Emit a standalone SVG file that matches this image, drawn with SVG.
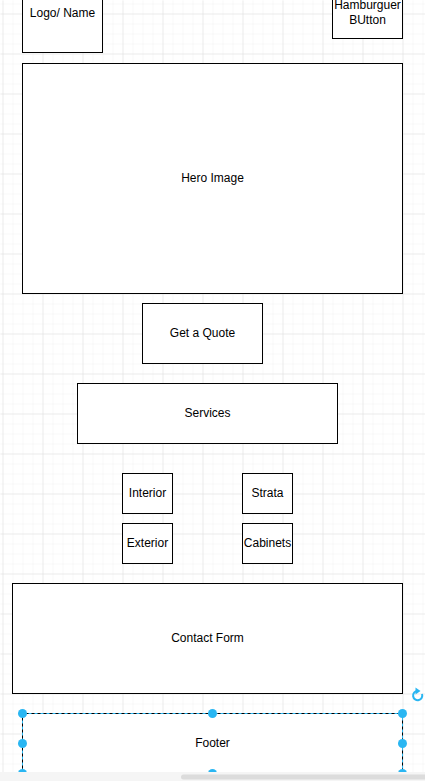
<svg xmlns="http://www.w3.org/2000/svg" width="425" height="781" viewBox="0 0 425 781">
<defs>
<pattern id="minor" x="2" y="3" width="10" height="10" patternUnits="userSpaceOnUse">
<path d="M0 0H10M0 0V10" fill="none" stroke="#f2f2f2" stroke-width="1"/>
</pattern>
<pattern id="major" x="2" y="13" width="40" height="40" patternUnits="userSpaceOnUse">
<path d="M0 0H40M0 0V40" fill="none" stroke="#e0e0e0" stroke-width="1"/>
</pattern>
</defs>
<style>
.box{fill:#fff;stroke:#000;stroke-width:1}
.t{font-family:"Liberation Sans",Arial,sans-serif;font-size:12px;fill:#000;text-anchor:middle;dominant-baseline:central}
.h{fill:#29b6f2}
</style>
<rect width="425" height="781" fill="#fff"/>
<rect width="425" height="781" fill="url(#minor)" transform="translate(0.5 0.5)"/>
<rect width="425" height="781" fill="url(#major)" transform="translate(0.5 0.5)"/>
<g id="connectors"></g>
<g id="logo"><rect class="box" x="22.5" y="-27.5" width="80" height="80"/><text class="t" x="62.5" y="12.5">Logo/ Name</text></g>
<g id="hamburger"><rect class="box" x="332.5" y="-11.5" width="70" height="50"/><text class="t" x="367.5" y="5">Hamburguer</text><text class="t" x="367.5" y="20">BUtton</text></g>
<g id="hero"><rect class="box" x="22.5" y="63.5" width="380" height="230"/><text class="t" x="212.5" y="177.5">Hero Image</text></g>
<g id="quote"><rect class="box" x="142.5" y="303.5" width="120" height="60"/><text class="t" x="202.5" y="332.5">Get a Quote</text></g>
<g id="services"><rect class="box" x="77.5" y="383.5" width="260" height="60"/><text class="t" x="207.5" y="412.5">Services</text></g>
<g id="interior"><rect class="box" x="122.5" y="473.5" width="50" height="40"/><text class="t" x="147.5" y="492.5">Interior</text></g>
<g id="strata"><rect class="box" x="242.5" y="473.5" width="50" height="40"/><text class="t" x="267.5" y="492.5">Strata</text></g>
<g id="exterior"><rect class="box" x="122.5" y="523.5" width="50" height="40"/><text class="t" x="147.5" y="542.5">Exterior</text></g>
<g id="cabinets"><rect class="box" x="242.5" y="523.5" width="50" height="40"/><text class="t" x="267.5" y="542.5">Cabinets</text></g>
<g id="contact"><rect class="box" x="12.5" y="583.5" width="390" height="110"/><text class="t" x="207.5" y="637.5">Contact Form</text></g>
<g id="footer"><rect class="box" x="22.5" y="713.5" width="380" height="60"/><text class="t" x="212.5" y="742.5">Footer</text>
<rect x="22.5" y="713.5" width="380" height="60" fill="none" stroke="#29b6f2" stroke-width="1" stroke-dasharray="3 3"/>
<circle class="h" cx="22.5" cy="713.5" r="4.5"/><circle class="h" cx="212.5" cy="713.5" r="4.5"/><circle class="h" cx="402.5" cy="713.5" r="4.5"/>
<circle class="h" cx="22.5" cy="743.5" r="4.5"/><circle class="h" cx="402.5" cy="743.5" r="4.5"/>
<circle class="h" cx="22.5" cy="773.5" r="4.5"/><circle class="h" cx="212.5" cy="773.5" r="4.5"/><circle class="h" cx="402.5" cy="773.5" r="4.5"/>
<path d="M422 694 A4.6 4.6 0 1 1 417.5 691" fill="none" stroke="#29b6f2" stroke-width="2"/>
<path d="M415.5 687.5 L420.5 691 L415.5 694.5 Z" fill="#29b6f2"/>
</g>
<rect x="0" y="772" width="425" height="9" fill="#f5f5f5"/>
<rect x="181" y="774.5" width="250" height="5" rx="2.5" fill="#dcdcdc"/>
</svg>
